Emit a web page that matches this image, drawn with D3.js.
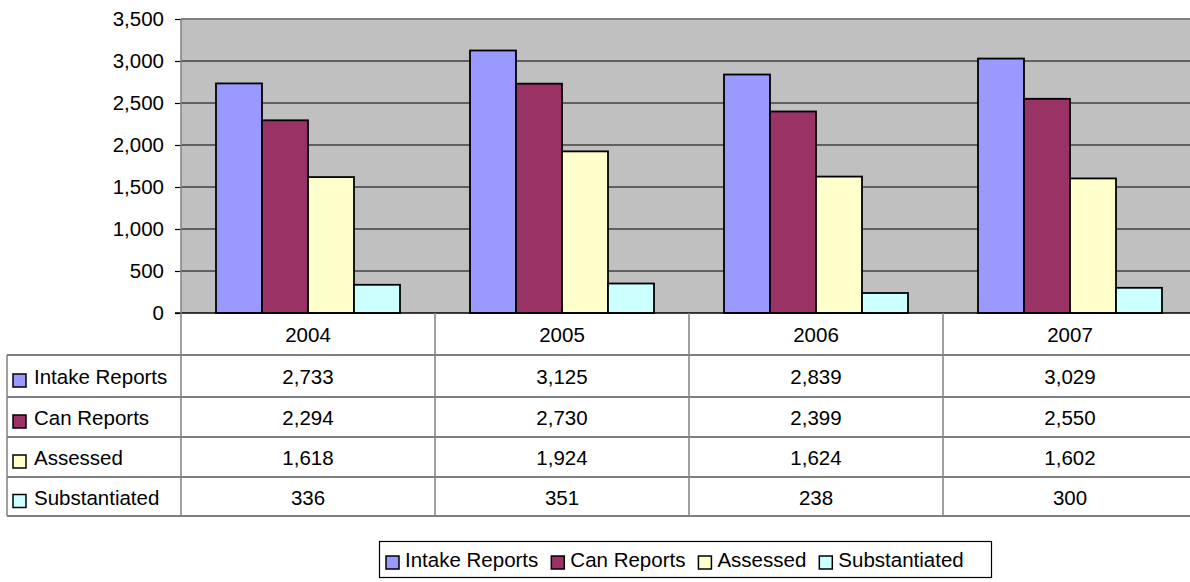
<!DOCTYPE html>
<html>
<head>
<meta charset="utf-8">
<script src="https://cdn.jsdelivr.net/npm/d3@7"></script>
<style>
  body { margin: 0; background: #fff; }
  text { font-family: "Liberation Sans", Arial, sans-serif; font-size: 20.5px; fill: #000; }
</style>
</head>
<body>
<svg id="sketch"></svg>
<script>
var years = ['2004', '2005', '2006', '2007'];
var seriesNames = ['Intake Reports', 'Can Reports', 'Assessed', 'Substantiated'];
var intake = [2733, 3125, 2839, 3029];
var canReports = [2294, 2730, 2399, 2550];
var assessed = [1618, 1924, 1624, 1602];
var substantiated = [336, 351, 238, 300];
var colors = ['#9999ff', '#993366', '#ffffcc', '#ccffff'];
var yTicks = [0, 500, 1000, 1500, 2000, 2500, 3000, 3500];

var series = [intake, canReports, assessed, substantiated];

var svg = d3.select('#sketch').attr('width', 1190).attr('height', 582);

var plotLeft = 181, plotRight = 1197, plotTop = 19, plotBottom = 313;
var rowH = [313, 355, 397, 437, 477, 516];

var x0 = d3.scaleBand().domain(years).range([plotLeft, plotRight]).padding(0);
var x1 = d3.scaleBand().domain(d3.range(4)).range([35, x0.bandwidth() - 35]).padding(0);
var y = d3.scaleLinear().domain([0, 3500]).range([plotBottom, plotTop]);

// plot background
svg.append('rect')
    .attr('x', plotLeft).attr('y', plotTop)
    .attr('width', plotRight - plotLeft).attr('height', plotBottom - plotTop)
    .attr('fill', '#c0c0c0');
svg.append('line')
    .attr('x1', plotLeft).attr('x2', plotRight).attr('y1', plotTop).attr('y2', plotTop)
    .attr('stroke', '#808080').attr('stroke-width', 2);

// gridlines
svg.append('g').selectAll('line')
    .data(yTicks.slice(1, -1))
    .enter().append('line')
    .attr('x1', plotLeft).attr('x2', plotRight)
    .attr('y1', d => y(d)).attr('y2', d => y(d))
    .attr('stroke', '#000').attr('stroke-width', 1.2);

// y axis
var yAxis = d3.axisLeft(y).tickValues(yTicks).tickSize(6).tickPadding(11)
    .tickFormat(d3.format(','));
var ya = svg.append('g').attr('transform', 'translate(' + plotLeft + ',0)').call(yAxis);
ya.select('.domain').remove();
ya.selectAll('.tick line').attr('stroke', '#000').attr('stroke-width', 1.2);
ya.selectAll('.tick text')
    .style('font-size', '20.5px')
    .style('font-family', '"Liberation Sans", Arial, sans-serif')
    .attr('fill', '#000');

// bars
var groups = svg.append('g').selectAll('g')
    .data(years)
    .enter().append('g')
    .attr('transform', d => 'translate(' + x0(d) + ',0)');

groups.selectAll('rect')
    .data((d, i) => series.map((s, k) => ({k: k, v: s[i]})))
    .enter().append('rect')
    .attr('x', d => x1(d.k))
    .attr('y', d => y(d.v))
    .attr('width', x1.bandwidth())
    .attr('height', d => y(0) - y(d.v))
    .attr('fill', d => colors[d.k])
    .attr('stroke', '#000')
    .attr('stroke-width', 1.8);

// data table
var table = svg.append('g');

table.append('line')
    .attr('x1', 175).attr('x2', plotRight).attr('y1', rowH[0]).attr('y2', rowH[0])
    .attr('stroke', '#000').attr('stroke-width', 1.5);
for (var i = 1; i < rowH.length; i++) {
    table.append('line')
	.attr('x1', 7).attr('x2', plotRight).attr('y1', rowH[i]).attr('y2', rowH[i])
	.attr('stroke', '#000').attr('stroke-width', 1.2);
}

table.append('line')
    .attr('x1', plotLeft).attr('x2', plotLeft).attr('y1', plotTop).attr('y2', rowH[5])
    .attr('stroke', '#808080').attr('stroke-width', 1.5);
table.append('line')
    .attr('x1', 7).attr('x2', 7).attr('y1', rowH[1]).attr('y2', rowH[5])
    .attr('stroke', '#808080').attr('stroke-width', 1.5);
years.slice(1).forEach(function(yr) {
    table.append('line')
	.attr('x1', x0(yr)).attr('x2', x0(yr)).attr('y1', rowH[0]).attr('y2', rowH[5])
	.attr('stroke', '#808080').attr('stroke-width', 1.5);
});

// header years
table.selectAll('.yr')
    .data(years)
    .enter().append('text')
    .attr('x', d => x0(d) + x0.bandwidth() / 2)
    .attr('y', (rowH[0] + rowH[1]) / 2)
    .attr('dy', '0.38em')
    .attr('text-anchor', 'middle')
    .text(d => d);

// rows
seriesNames.forEach(function(name, k) {
    var cy = (rowH[k + 1] + rowH[k + 2]) / 2;
    table.append('rect')
	.attr('x', 13).attr('y', cy - 2)
	.attr('width', 13).attr('height', 13)
	.attr('fill', colors[k]).attr('stroke', '#000').attr('stroke-width', 1.5);
    table.append('text')
	.attr('x', 34).attr('y', cy).attr('dy', '0.4em')
	.text(name);
    years.forEach(function(yr, i) {
	table.append('text')
	    .attr('x', x0(yr) + x0.bandwidth() / 2)
	    .attr('y', cy).attr('dy', '0.4em')
	    .attr('text-anchor', 'middle')
	    .text(d3.format(',')(series[k][i]));
    });
});

// bottom legend
var legend = svg.append('g');
legend.append('rect')
    .attr('x', 379.5).attr('y', 541.5)
    .attr('width', 612).attr('height', 36)
    .attr('fill', '#fff').attr('stroke', '#000').attr('stroke-width', 1.2);

var lx = 386;
seriesNames.forEach(function(name, k) {
    legend.append('rect')
	.attr('x', lx).attr('y', 556)
	.attr('width', 13).attr('height', 13)
	.attr('fill', colors[k]).attr('stroke', '#000').attr('stroke-width', 1.5);
    var t = legend.append('text')
	.attr('x', lx + 19).attr('y', 559).attr('dy', '0.38em')
	.text(name);
    lx += 19 + t.node().getComputedTextLength() + 13;
});
</script>
</body>
</html>
